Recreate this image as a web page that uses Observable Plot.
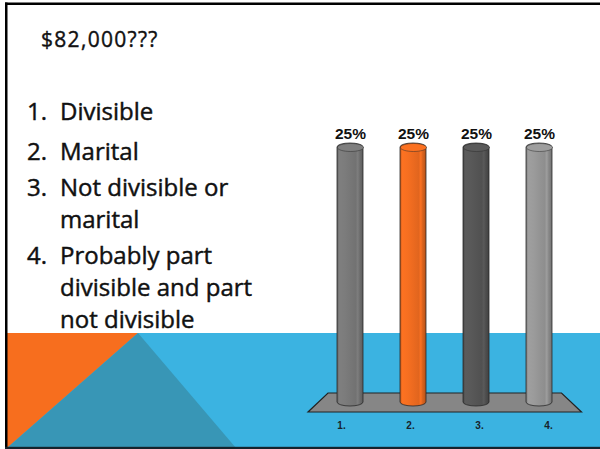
<!DOCTYPE html>
<html>
<head>
<meta charset="utf-8">
<script src="https://cdn.jsdelivr.net/npm/d3@7"></script>
<script src="https://cdn.jsdelivr.net/npm/@observablehq/plot@0.6"></script>
<style>
  html, body { margin: 0; padding: 0; background: #fff; }
  #slide { position: relative; width: 600px; height: 449px; overflow: hidden; font-family: "Open Sans", sans-serif; color: #111; }
  #bg { position: absolute; left: 0; top: 0; }
  #title { position: absolute; left: 41px; top: 29px; font-size: 21px; line-height: 21px; letter-spacing: 1.3px; white-space: nowrap; -webkit-text-stroke: 0.4px #111; }
  .item { position: absolute; font-size: 24px; line-height: 32px; white-space: nowrap; -webkit-text-stroke: 0.45px #111; }
  .num { position: absolute; left: 27px; }
  .txt { position: absolute; left: 60px; }
  #chart { position: absolute; left: 290px; top: 100px; }
  #labels { position: absolute; left: 290px; top: 415px; }
</style>
</head>
<body>
<div id="slide">
  <svg id="bg" width="600" height="449"></svg>
  <div id="title"></div>
  <div id="list"></div>
  <div id="chart"></div>
  <div id="labels"></div>
</div>
<script>
// ---- data ----
const titleText = "$82,000???";
const listNumbers = ["1.", "2.", "3.", "4."];
const listLines = [["Divisible"], ["Marital"], ["Not divisible or", "marital"], ["Probably part", "divisible and part", "not divisible"]];
const categories = ["1.", "2.", "3.", "4."];
const values = [25, 25, 25, 25];
const barColors = ["#7a7a7a", "#f26d20", "#575757", "#989898"];

// ---- background slide ----
const bg = d3.select("#bg");
const defs = bg.append("defs");
barColors.forEach((c, i) => {
  const base = d3.color(c);
  const g = defs.append("linearGradient").attr("id", "cyl" + i).attr("x1", 0).attr("x2", 1).attr("y1", 0).attr("y2", 0);
  [[0, base.darker(0.7)], [0.08, base.brighter(0.12)], [0.3, base.brighter(0.05)], [0.55, base.darker(0.1)],
   [0.72, base.darker(0.2)], [0.8, base.brighter(0.1)], [0.86, base.darker(0.25)], [1, base.darker(0.8)]]
    .forEach(([o, col]) => g.append("stop").attr("offset", o).attr("stop-color", col.formatHex()));
});
bg.append("rect").attr("width", 600).attr("height", 449).attr("fill", "#fff");
bg.append("rect").attr("x", 7).attr("y", 333).attr("width", 593).attr("height", 115).attr("fill", "#3bb3e1");
bg.append("polygon").attr("points", "7,333 138,333 7,448").attr("fill", "#f76e1e");
bg.append("polygon").attr("points", "7,448 138,333 236,448").attr("fill", "#3896b6");
bg.append("rect").attr("x", 5).attr("y", 2.5).attr("width", 595).attr("height", 2.5).attr("fill", "#000");
bg.append("rect").attr("x", 5).attr("y", 2.5).attr("width", 2.5).attr("height", 446).attr("fill", "#000");
bg.append("rect").attr("x", 5).attr("y", 446.8).attr("width", 595).attr("height", 2.2).attr("fill", "#15232c");

// ---- text ----
document.getElementById("title").textContent = titleText;
const itemTops = [95, 135, 171, 239];
const list = d3.select("#list");
listNumbers.forEach((n, i) => {
  const it = list.append("div").attr("class", "item").style("top", itemTops[i] + "px");
  it.append("span").attr("class", "num").text(n);
  it.append("span").attr("class", "txt").html(listLines[i].join("<br>"));
});

// ---- chart ----
const data = categories.map((c, i) => ({cat: c, value: values[i], grad: `url(#cyl${i})`, top: d3.color(barColors[i]).brighter(0.1).formatHex()}));

const ellipseSymbol = {
  draw(ctx) {
    const rx = 13, ry = 4, k = 0.5523;
    ctx.moveTo(rx, 0);
    ctx.bezierCurveTo(rx, k * ry, k * rx, ry, 0, ry);
    ctx.bezierCurveTo(-k * rx, ry, -rx, k * ry, -rx, 0);
    ctx.bezierCurveTo(-rx, -k * ry, -k * rx, -ry, 0, -ry);
    ctx.bezierCurveTo(k * rx, -ry, rx, -k * ry, rx, 0);
    ctx.closePath();
  }
};

function floorMark(index, scales, vals, dimensions) {
  const {height, marginBottom} = dimensions;
  const y0 = height - marginBottom;
  let first = 59, last = 250.5;
  try {
    const x = scales.x;
    const bw = x.bandwidth();
    first = x(categories[0]) + bw / 2;
    last = x(categories[categories.length - 1]) + bw / 2;
  } catch (e) {}
  const backY = y0 - 13, frontY = y0 + 6;
  const p = document.createElementNS("http://www.w3.org/2000/svg", "path");
  p.setAttribute("d", `M${first - 22},${backY}L${last + 22.5},${backY}L${last + 42.5},${frontY}L${first - 42},${frontY}Z`);
  p.setAttribute("fill", "#868686");
  p.setAttribute("stroke", "#222");
  p.setAttribute("stroke-width", "1.2");
  return p;
}

const chart = Plot.plot({
  width: 310, height: 340,
  marginTop: 43, marginBottom: 34, marginLeft: 0, marginRight: 0,
  x: {type: "band", domain: categories, range: [8.4, 301.2], paddingInner: 0.593, paddingOuter: 0.593, axis: null},
  y: {domain: [0, 25], axis: null},
  color: {type: "identity"},
  style: {background: "transparent", overflow: "visible", fontFamily: "Liberation Sans, Arial, sans-serif", color: "#111"},
  marks: [
    floorMark,
    Plot.barY(data, {x: "cat", y: "value", fill: "grad", stroke: "#2a2a2a", strokeWidth: 0.8, rx: 13, ry: 4, inset: 0}),
    Plot.dot(data, {x: "cat", y: "value", dy: 4, symbol: ellipseSymbol, r: 5, fill: "top", stroke: "#2a2a2a", strokeWidth: 0.7, strokeOpacity: 0.7}),
    Plot.text(data, {x: "cat", y: "value", text: d => d.value + "%", dy: -5, lineAnchor: "bottom", fontSize: 15.5, fontWeight: "bold", fill: "#111"})
  ]
});
document.getElementById("chart").append(chart);

const labels = Plot.plot({
  width: 310, height: 20, margin: 0,
  x: {type: "point", domain: categories, range: [51, 258], padding: 0, axis: null},
  style: {background: "transparent", overflow: "visible", fontFamily: "Liberation Sans, Arial, sans-serif"},
  marks: [
    Plot.text(categories, {x: d => d, text: d => d, fontSize: 10, fontWeight: "bold", fill: "#17232b"})
  ]
});
document.getElementById("labels").append(labels);
</script>
</body>
</html>
